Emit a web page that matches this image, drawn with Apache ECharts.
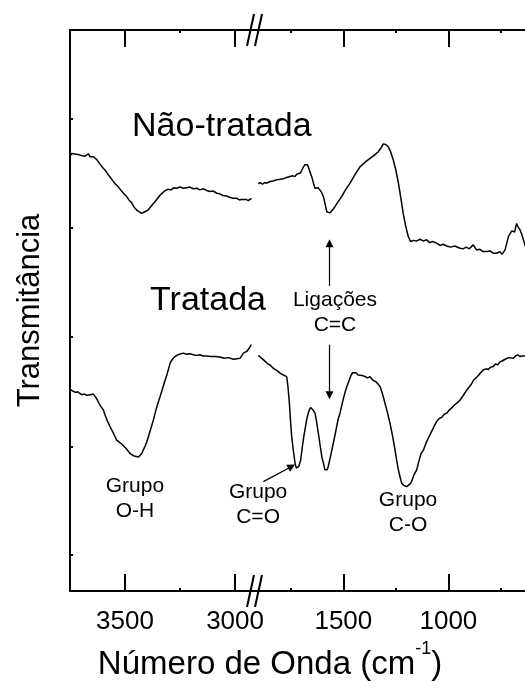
<!DOCTYPE html>
<html>
<head>
<meta charset="utf-8">
<script src="https://cdn.jsdelivr.net/npm/echarts@6/dist/echarts.min.js"></script>
<style>
  html, body { margin: 0; padding: 0; background: #fff; }
  #chart { width: 525px; height: 690px; }
</style>
</head>
<body>
<div id="chart"></div>
<script>
// FTIR spectra, wavenumber (cm-1) vs transmittance (arbitrary units, 0-100)
// Two panels: 3750-2923 cm-1 and 1935-540 cm-1 (broken axis)

const untreatedHigh = [
  [3748,77.6],[3742,78.0],[3735,78.3],[3728,77.9],[3720,78.2],[3712,77.8],[3705,78.1],[3697,77.6],
  [3690,77.9],[3682,77.5],[3674,77.7],[3666,77.9],[3658,77.4],[3650,77.6],[3644,77.4],[3636,77.1],
  [3628,76.9],[3621,76.5],[3612,76.0],[3600,75.4],[3590,75.0],[3580,74.4],[3568,73.8],[3555,73.1],
  [3545,72.6],[3532,72.1],[3520,71.5],[3505,70.8],[3492,70.3],[3480,69.6],[3470,69.2],[3460,68.5],
  [3447,67.9],[3435,67.6],[3425,67.3],[3418,67.4],[3410,67.6],[3403,67.5],[3395,67.9],[3385,68.4],
  [3375,68.9],[3364,69.4],[3350,70.1],[3340,70.6],[3333,70.9],[3320,71.3],[3305,71.6],[3290,71.5],
  [3278,71.9],[3265,71.8],[3250,72.0],[3235,71.8],[3220,71.9],[3205,72.0],[3190,71.7],[3174,71.8],
  [3160,71.5],[3145,71.7],[3129,71.4],[3115,71.2],[3100,71.3],[3083,70.9],[3070,70.8],[3055,70.5],
  [3038,70.4],[3025,70.2],[3010,70.0],[2992,70.0],[2980,69.7],[2970,69.8],[2962,69.5],[2950,69.8],
  [2940,69.6],[2932,69.9],[2925,70.0]
];

const untreatedLow = [
  [1905,72.6],[1895,72.8],[1885,72.5],[1875,72.8],[1865,72.7],[1850,73.0],[1835,73.1],[1817,73.3],
  [1800,73.4],[1785,73.5],[1770,73.7],[1754,73.9],[1740,74.0],[1730,73.9],[1722,74.3],[1715,74.2],
  [1705,74.5],[1698,75.0],[1690,75.6],[1683,76.0],[1678,76.1],[1672,76.0],[1667,75.6],[1660,74.8],
  [1651,73.9],[1643,72.8],[1635,71.8],[1628,71.6],[1620,71.9],[1611,71.8],[1603,71.0],[1595,70.3],
  [1587,69.0],[1579,67.6],[1570,67.3],[1564,67.4],[1552,67.9],[1540,68.5],[1525,69.4],[1508,70.3],
  [1490,71.5],[1468,72.7],[1445,74.2],[1421,75.6],[1395,76.5],[1373,77.1],[1355,77.6],[1334,78.3],
  [1320,79.0],[1310,79.7],[1298,79.6],[1286,79.2],[1275,78.3],[1262,76.8],[1250,75.0],[1238,72.7],
  [1226,70.0],[1215,67.3],[1203,65.0],[1191,63.2],[1180,62.3],[1175,62.3],[1165,62.5],[1150,62.4],
  [1135,62.7],[1120,62.4],[1103,62.6],[1090,62.1],[1075,62.3],[1056,62.0],[1040,61.6],[1025,61.8],
  [1008,61.5],[990,61.3],[970,61.5],[945,61.1],[930,61.0],[915,61.3],[900,61.0],[882,61.7],
  [874,61.5],[866,60.8],[850,60.9],[835,60.5],[817,60.5],[800,60.6],[785,60.2],[770,60.2],
  [755,60.5],[745,60.0],[738,59.9],[730,60.8],[722,62.0],[714,63.2],[705,63.5],[698,64.2],
  [691,64.4],[684,64.0],[679,65.0],[675,65.5],[670,65.0],[665,64.8],[659,64.4],[650,63.5],
  [643,62.6],[634,61.5],[626,60.8],[600,60.0]
];

const treatedHigh = [
  [3748,35.9],[3742,36.1],[3735,35.6],[3725,35.4],[3715,35.5],[3705,35.2],[3695,35.0],[3685,35.1],
  [3674,34.9],[3665,35.2],[3655,35.0],[3644,35.1],[3636,34.8],[3629,34.3],[3620,33.6],[3610,32.9],
  [3599,32.3],[3590,31.3],[3580,30.3],[3568,29.3],[3555,28.3],[3545,27.5],[3538,26.9],[3525,26.5],
  [3515,26.2],[3508,26.0],[3495,25.4],[3485,24.9],[3477,24.5],[3465,24.2],[3455,24.0],[3447,23.8],
  [3438,23.9],[3430,24.2],[3424,24.5],[3415,25.3],[3408,25.9],[3401,26.6],[3390,28.0],[3380,29.3],
  [3371,30.5],[3360,32.2],[3350,33.5],[3341,34.6],[3330,36.0],[3320,37.3],[3310,38.5],[3300,39.9],
  [3295,40.6],[3285,41.3],[3273,41.8],[3260,42.1],[3245,42.3],[3235,42.4],[3220,42.2],[3205,42.3],
  [3190,42.1],[3175,42.0],[3160,42.1],[3145,41.9],[3129,41.9],[3110,41.8],[3090,41.8],[3068,41.7],
  [3050,41.5],[3030,41.6],[3007,41.3],[2992,41.4],[2977,41.5],[2970,41.9],[2962,42.4],[2955,42.5],
  [2947,42.7],[2940,43.0],[2932,43.5],[2926,43.9]
];

const treatedLow = [
  [1905,42.0],[1898,41.8],[1890,41.5],[1880,41.2],[1873,40.9],[1860,40.5],[1850,40.3],[1841,40.0],
  [1830,39.6],[1820,39.4],[1810,39.1],[1800,38.8],[1786,38.5],[1778,38.4],[1770,38.2],[1764,36.5],
  [1757,33.5],[1752,30.5],[1746,27.5],[1738,25.0],[1730,22.8],[1724,21.9],[1719,21.6],[1712,22.2],
  [1703,23.4],[1695,25.8],[1688,27.6],[1683,28.7],[1675,30.5],[1668,31.6],[1662,32.3],[1656,32.7],
  [1651,32.7],[1645,32.3],[1640,32.0],[1635,31.7],[1628,30.3],[1619,28.1],[1610,25.8],[1602,23.8],
  [1595,22.8],[1588,21.6],[1583,21.3],[1577,21.6],[1572,22.2],[1560,24.2],[1548,26.3],[1535,28.7],
  [1525,30.6],[1516,31.7],[1505,33.5],[1495,35.0],[1484,36.4],[1470,37.8],[1463,38.5],[1456,38.9],
  [1448,38.7],[1440,38.9],[1430,38.5],[1421,38.7],[1410,38.4],[1395,38.2],[1385,38.0],[1373,38.2],
  [1360,37.6],[1345,37.3],[1335,36.9],[1325,36.4],[1315,35.3],[1302,33.5],[1290,31.8],[1278,29.9],
  [1265,27.5],[1254,25.1],[1245,23.0],[1238,21.6],[1230,20.3],[1222,19.2],[1212,18.8],[1205,18.5],
  [1198,18.6],[1190,18.9],[1182,19.1],[1175,19.5],[1165,20.6],[1151,21.6],[1140,23.2],[1130,24.5],
  [1119,25.1],[1105,26.5],[1095,27.3],[1087,27.5],[1075,28.8],[1065,29.6],[1056,30.2],[1045,30.7],
  [1030,31.0],[1020,31.5],[1008,31.7],[995,32.3],[985,32.6],[970,33.2],[960,33.5],[945,34.0],
  [930,34.8],[913,35.8],[900,36.4],[890,36.9],[880,37.6],[865,38.1],[855,38.5],[845,39.0],
  [834,39.4],[820,39.6],[810,39.5],[800,39.9],[786,40.0],[775,40.5],[765,40.3],[755,40.8],
  [745,41.0],[738,41.2],[725,41.4],[715,41.6],[706,41.8],[690,41.5],[680,41.9],[670,42.1],
  [659,41.8],[648,41.9],[635,41.9],[620,41.7],[600,41.6]
];

// tick positions (cm-1)
const highMajorTicks = [3500, 3000];
const highMinorTicks = [3750, 3250];
const lowMajorTicks = [1500, 1000];
const lowMinorTicks = [1750, 1250, 750];
const yTicks = [6.4, 25.8, 45.3, 64.7, 84.1];

// axis ranges
const highRange = [2923, 3750];
const lowRange = [540, 1935];

// annotation texts and anchor points [cm-1, transmittance]
const sampleLabels = [
  { text: 'Não-tratada', panel: 0, at: [3468, 82.8] },
  { text: 'Tratada', panel: 0, at: [3386, 51.7] }
];
const bandLabels = [
  { text: 'Grupo\nO-H', panel: 0, at: [3455, 16.5] },
  { text: 'Ligações\nC=C', panel: 1, at: [1540, 49.6] },
  { text: 'Grupo\nC=O', panel: 1, at: [1906, 15.4] },
  { text: 'Grupo\nC-O', panel: 1, at: [1192, 14.0] }
];
const arrows = [
  [[1566, 54.4], [1566, 62.0]],
  [[1566, 43.9], [1566, 34.9]],
  [[1881, 19.5], [1746, 22.2]]
];

const FONT = '"Liberation Sans", Arial, Helvetica, sans-serif';
const BLACK = '#000';

const chart = echarts.init(document.getElementById('chart'), null, { renderer: 'canvas' });

function xAxisSet(gridIndex, range, major, minor) {
  const base = {
    type: 'value', gridIndex, min: range[0], max: range[1], inverse: true,
    splitLine: { show: false }
  };
  const tick = (values, length) => ({
    show: true, inside: true, length, customValues: values,
    lineStyle: { color: BLACK, width: 2 }
  });
  const line = { show: true, lineStyle: { color: BLACK, width: 2 } };
  return [
    Object.assign({}, base, {
      position: 'bottom', axisLine: line, axisTick: tick(major, 17),
      axisLabel: {
        show: true, customValues: major, color: BLACK, fontSize: 26,
        fontFamily: FONT, margin: 18, formatter: v => String(v)
      }
    }),
    Object.assign({}, base, {
      position: 'top', axisLine: line, axisTick: tick(major, 17), axisLabel: { show: false }
    }),
    Object.assign({}, base, {
      position: 'bottom', axisLine: { show: false }, axisTick: tick(minor, 3), axisLabel: { show: false }
    }),
    Object.assign({}, base, {
      position: 'top', axisLine: { show: false }, axisTick: tick(minor, 3), axisLabel: { show: false }
    })
  ];
}

const lineStyle = { color: BLACK, width: 1.5 };
function spectrum(data, xIdx, yIdx, extra) {
  return Object.assign({
    type: 'line', xAxisIndex: xIdx, yAxisIndex: yIdx, data,
    showSymbol: false, symbol: 'none', smooth: false,
    lineStyle, itemStyle: { color: BLACK }, silent: true, animation: false
  }, extra || {});
}

const option = {
  backgroundColor: '#fff',
  animation: false,
  grid: [
    { left: 70, top: 30, width: 182, height: 561, outerBoundsMode: 'none', containLabel: false },
    { left: 252, top: 30, width: 293, height: 561, outerBoundsMode: 'none', containLabel: false }
  ],
  xAxis: [].concat(
    xAxisSet(0, highRange, highMajorTicks, highMinorTicks),
    xAxisSet(1, lowRange, lowMajorTicks, lowMinorTicks)
  ),
  yAxis: [
    {
      type: 'value', gridIndex: 0, min: 0, max: 100, position: 'left',
      axisLine: { show: true, lineStyle: { color: BLACK, width: 2 } },
      axisTick: { show: true, inside: true, length: 3, customValues: yTicks, lineStyle: { color: BLACK, width: 2 } },
      axisLabel: { show: false },
      splitLine: { show: false },
      name: 'Transmitância', nameLocation: 'middle', nameGap: 24,
      nameTextStyle: { color: BLACK, fontSize: 31, fontFamily: FONT }
    },
    { type: 'value', gridIndex: 1, min: 0, max: 100, show: false }
  ],
  series: [
    spectrum(untreatedHigh, 0, 0),
    spectrum(untreatedLow, 4, 1),
    spectrum(treatedHigh, 0, 0),
    spectrum(treatedLow, 4, 1, {
      markLine: {
        silent: true, animation: false,
        symbol: ['none', 'triangle'], symbolSize: 8,
        label: { show: false },
        lineStyle: { color: BLACK, width: 1.2, type: 'solid' },
        itemStyle: { color: BLACK },
        data: arrows.map(a => [{ coord: a[0] }, { coord: a[1] }])
      }
    })
  ]
};

chart.setOption(option);

function toPixel(panel, pt) {
  return chart.convertToPixel({ xAxisIndex: panel === 0 ? 0 : 4, yAxisIndex: panel }, pt);
}

const graphics = [];

// sample names
sampleLabels.forEach(l => {
  const p = toPixel(l.panel, l.at);
  graphics.push({
    type: 'text', x: p[0], y: p[1], silent: true,
    style: { text: l.text, fill: BLACK, font: '34px ' + FONT, align: 'left', verticalAlign: 'middle' }
  });
});

// band assignments
bandLabels.forEach(l => {
  const p = toPixel(l.panel, l.at);
  graphics.push({
    type: 'text', x: p[0], y: p[1], silent: true,
    style: { text: l.text, fill: BLACK, fontSize: 21, fontFamily: FONT, lineHeight: 25, align: 'center', verticalAlign: 'middle' }
  });
});

// axis break marks
[30, 591].forEach(yc => {
  [247, 255].forEach(x0 => {
    graphics.push({
      type: 'line', silent: true,
      shape: { x1: x0, y1: yc + 16, x2: x0 + 7, y2: yc - 16 },
      style: { stroke: BLACK, lineWidth: 2 }
    });
  });
});

// x axis title with superscript
graphics.push({
  type: 'text', x: 270, y: 665, silent: true,
  style: {
    text: 'Número de Onda (cm{sup|-1})',
    fill: BLACK, fontSize: 33, fontFamily: FONT,
    align: 'center', verticalAlign: 'middle',
    rich: {
      sup: { fontSize: 18, fontFamily: FONT, fill: BLACK, padding: [0, 0, 32, 0] }
    }
  }
});

chart.setOption({ graphic: graphics });
</script>
</body>
</html>
